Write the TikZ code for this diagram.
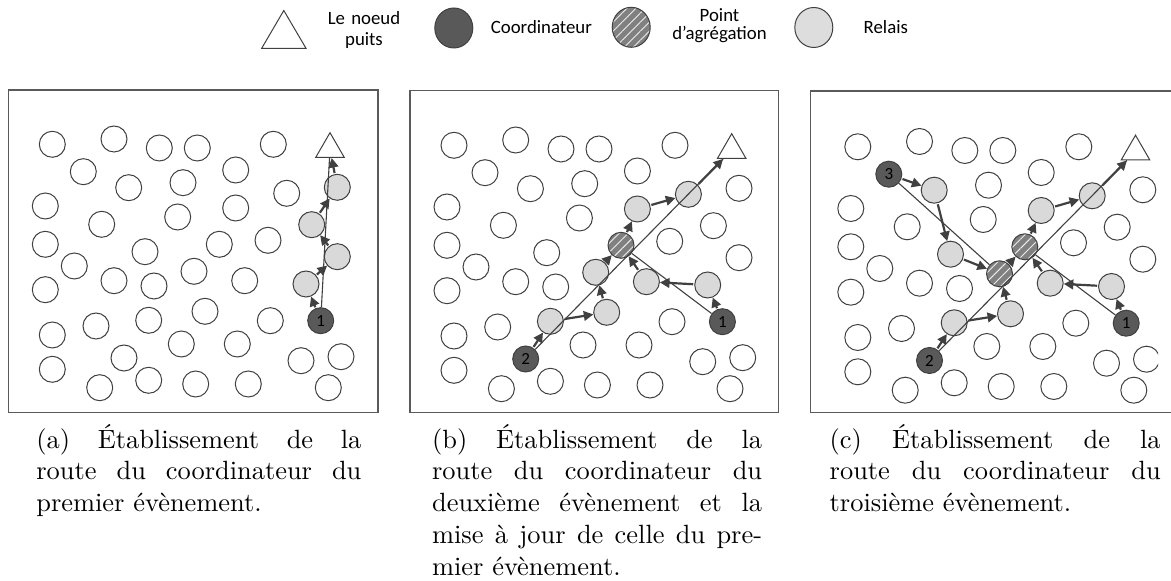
\documentclass[tikz,border=0pt]{standalone}
\usepackage{fontspec}
\newfontfamily\lgfont{Carlito}
\newfontfamily\capfont{lmroman10-regular.otf}
\usetikzlibrary{arrows.meta,shapes.geometric,patterns.meta}

\definecolor{lineg}{HTML}{404040}
\definecolor{relayg}{HTML}{D9D9D9}
\definecolor{coordg}{HTML}{595959}
\definecolor{aggg}{HTML}{808080}
\definecolor{frameg}{HTML}{5A5A5A}

\tikzset{
  plain/.style={circle, draw=lineg, line width=0.5pt, minimum size=13pt, inner sep=0pt,
    fill=white, font=\lgfont\fontsize{8.5}{9}\selectfont},
  relay/.style={fill=relayg},
  coordn/.style={fill=coordg},
  aggn/.style={preaction={fill=aggg},
    pattern={Lines[angle=45,distance=3.2pt,line width=0.45pt]}, pattern color=white!85!gray},
  sink/.style={regular polygon, regular polygon sides=3, draw=lineg, line width=0.5pt,
    minimum size=16.5pt, inner sep=0pt, fill=white},
  route/.style={draw=lineg, line width=0.55pt},
  arr/.style={draw=lineg, line width=1.1pt, -{Triangle[length=4.8pt,width=4.8pt]},
    shorten <=0.5pt},
  frame/.style={draw=frameg, line width=0.6pt},
  capstyle/.style={anchor=base west, inner sep=0pt, align=justify,
    font=\capfont\fontsize{13.2}{15.85}\selectfont},
  lgtxt/.style={anchor=base, inner sep=0pt, text width=70pt, align=center},
  lgone/.style={inner sep=0pt, font=\lgfont\fontsize{9.4}{9}\selectfont},
  lgsym/.style={ellipse, draw=lineg, line width=0.5pt, minimum width=19pt,
    minimum height=20pt, inner sep=0pt},
  pstyle/.code={\pgfkeysifdefined{/tikz/#1/.@cmd}{\pgfkeysalso{/tikz/#1}}{}},
  % panel (a)
  a-r1/.style=relay, a-r2/.style=relay, a-r3/.style=relay, a-r4/.style=relay,
  a-k1/.style=coordn,
  % panel (b)
  b-c27/.style=relay, b-c28/.style=relay, b-c23/.style=relay, b-c14/.style=relay,
  b-c10/.style=relay, b-c24/.style=relay, b-r4/.style=relay,
  b-c18/.style=aggn, b-k1/.style=coordn, b-c30/.style=coordn,
  % panel (c)
  c-c7/.style=relay, c-c17/.style=relay, c-c27/.style=relay, c-c28/.style=relay,
  c-c14/.style=relay, c-c10/.style=relay, c-c24/.style=relay, c-r4/.style=relay,
  c-c18/.style=aggn, c-c23/.style=aggn,
  c-k1/.style=coordn, c-c30/.style=coordn, c-c6/.style=coordn,
}

\expandafter\def\csname lbl@a@k1\endcsname{1}
\expandafter\def\csname lbl@b@k1\endcsname{1}
\expandafter\def\csname lbl@b@c30\endcsname{2}
\expandafter\def\csname lbl@c@k1\endcsname{1}
\expandafter\def\csname lbl@c@c30\endcsname{2}
\expandafter\def\csname lbl@c@c6\endcsname{3}

\def\circlist{c1/52.3/144.3, c2/114/139, c3/159.3/148, c4/197.3/148, c5/273.3/144.3,
  c6/83.3/171.7, c7/128.7/187.7, c8/183/182.7, c9/235.7/170, c10/286.7/193.3,
  c11/45.3/206, c12/101.7/224.3, c13/177.7/217, c14/235.7/208,
  c15/45.3/244.3, c16/74.3/266, c17/145/251.7, c18/219.3/244.3, c19/268/240.3,
  c20/45.3/289.7, c21/114/280.7, c22/154/286, c23/194/271.3, c24/244.7/280.7,
  c25/52.3/335, c26/96/326, c27/148.7/320.3, c28/205/311.3, c29/270.3/320.7,
  c30/124/358, c31/181.3/344, c32/237.3/344,
  c33/52.3/369.3, c34/99.7/387.7, c35/148.7/380.3, c36/195.7/384, c37/248.3/384,
  c38/301/360.7, c39/341/356.7, c40/328.3/387.7,
  r1/337.3/187.3, r2/311.7/224.7, r3/337.3/256.7, r4/306/284, k1/320.7/320.7}

\newcommand\drawpanel[3]{%
  \foreach \id/\x/\y in \circlist {%
    \node[plain, pstyle/.expanded={#1-\id}] (#1-\id) at ({#2+\x},{#3+\y})
      {\csname lbl@#1@\id\endcsname};
  }%
  \node[sink] (#1-t) at ({#2+330},{#3+149.2}) {};
}

\begin{document}
\begin{tikzpicture}[x=0.5pt,y=-0.5pt]
\useasboundingbox (0,0) rectangle (1171,581);

% ---------- legend ----------
\draw[draw=lineg, line width=0.5pt] (261.7,48.3) -- (283.8,10.5) -- (306,48.3) -- cycle;
\node[lgtxt, font=\lgfont\fontsize{9.4}{10.5}\selectfont] (lgsinktxt) at (364,25) {Le noeud\\puits};
\node[lgsym, fill=coordg] (lgcoord) at (453.8,28) {};
\node[lgone, anchor=base west] (lgcoordtxt) at (490.5,33.3) {Coordinateur};
\node[lgsym, aggn] (lgagg) at (631.2,27.3) {};
\node[lgtxt, font=\lgfont\fontsize{9.4}{8.8}\selectfont] (lgaggtxt) at (719.5,21.7) {Point\\d’agrégation};
\node[lgsym, fill=relayg!90!white] (lgrelay) at (813.8,27.5) {};
\node[lgone, anchor=base west] (lgrelaytxt) at (863.3,33.3) {Relais};

% ---------- frames ----------
\draw[frame] (8.3,90) rectangle (378,412.3);
\draw[frame] (410,90.5) rectangle (778.3,412.7);
\draw[frame] (810.7,91) rectangle (1185,412.7);

% ---------- panel (a) ----------
\drawpanel{a}{0}{0}
\draw[route] (a-k1) -- (a-t);
\draw[arr] (a-k1) -- (a-r4);
\draw[arr] (a-r4) -- (a-r3);
\draw[arr] (a-r3) -- (a-r2);
\draw[arr] (a-r2) -- (a-r1);
\draw[arr] (a-r1) -- (a-t);

% ---------- panel (b) ----------
\drawpanel{b}{401.7}{1}
\draw[route] (b-c30) -- (b-t);
\draw[route] (b-k1) -- (b-c18);
\draw[arr] (b-c30) -- (b-c27);
\draw[arr] (b-c27) -- (b-c28);
\draw[arr] (b-c28) -- (b-c23);
\draw[arr] (b-c23) -- (b-c18);
\draw[arr] (b-c18) -- (b-c14);
\draw[arr] (b-c14) -- (b-c10);
\draw[arr] (b-c10) -- (b-t);
\draw[arr] (b-k1) -- (b-r4);
\draw[arr] (b-r4) -- (b-c24);
\draw[arr] (b-c24) -- (b-c18);

% ---------- panel (c) ----------
\begin{scope}
\clip (800,80) rectangle (1158,420);
\drawpanel{c}{805.5}{2.5}
\draw[route] (c-c30) -- (c-t);
\draw[route] (c-k1) -- (c-c18);
\draw[route] (c-c6) -- (c-c23);
\draw[arr] (c-c6) -- (c-c7);
\draw[arr] (c-c7) -- (c-c17);
\draw[arr] (c-c17) -- (c-c23);
\draw[arr] (c-c23) -- (c-c18);
\draw[arr] (c-c30) -- (c-c27);
\draw[arr] (c-c27) -- (c-c28);
\draw[arr] (c-c28) -- (c-c23);
\draw[arr] (c-c18) -- (c-c14);
\draw[arr] (c-c14) -- (c-c10);
\draw[arr] (c-c10) -- (c-t);
\draw[arr] (c-k1) -- (c-r4);
\draw[arr] (c-r4) -- (c-c24);
\draw[arr] (c-c24) -- (c-c18);
\end{scope}

% ---------- captions ----------
\node[capstyle, text width=162.5pt] (capa) at (36,448.3)
  {(a) Établissement de la\linebreak route du coordinateur du\linebreak premier évènement.};
\node[capstyle, text width=165pt] (capb) at (431.7,448.3)
  {(b) Établissement de la\linebreak route du coordinateur du\linebreak deuxième évènement et la\linebreak mise à jour de celle du pre-\linebreak mier évènement.};
\node[capstyle, text width=165.5pt] (capc) at (829.3,448.3)
  {(c) Établissement de la\linebreak route du coordinateur du\linebreak troisième évènement.};
\end{tikzpicture}
\end{document}
